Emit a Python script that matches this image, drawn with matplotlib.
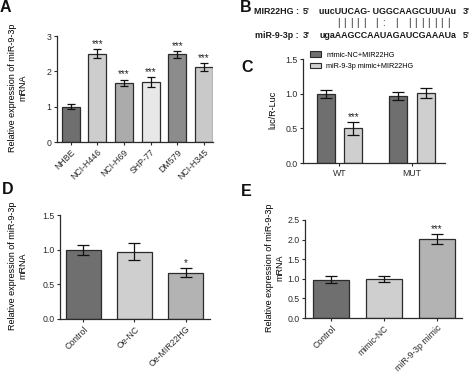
import matplotlib
matplotlib.use("Agg")
import matplotlib.pyplot as plt
from matplotlib.patches import Patch

plt.rcParams['font.family'] = ['Liberation Sans', 'DejaVu Sans']
plt.rcParams['font.size'] = 6.5

W, H = 474, 373

# === data ===
a_cats = ["NHBE", "NCI-H446", "NCI-H69", "SHP-77", "DM579", "NCI-H345"]
a_vals = [1.0, 2.5, 1.68, 1.7, 2.48, 2.12]
a_errs = [0.07, 0.13, 0.09, 0.13, 0.09, 0.12]
a_stars = ["", "***", "***", "***", "***", "***"]
a_colors = ["#6f6f6f", "#cdcdcd", "#ababab", "#e8e8e8", "#8c8c8c", "#c9c9c9"]

c_groups = ["WT", "MUT"]
c_series = ["mimic-NC+MIR22HG", "miR-9-3p mimic+MIR22HG"]
c_vals = [[1.0, 0.97], [0.5, 1.01]]
c_errs = [[0.06, 0.06], [0.09, 0.07]]
c_stars = [["", ""], ["***", ""]]
c_colors = ["#6f6f6f", "#cfcfcf"]

d_cats = ["Control", "Oe-NC", "Oe-MIR22HG"]
d_vals = [1.0, 0.97, 0.67]
d_errs = [0.07, 0.12, 0.07]
d_stars = ["", "", "*"]

e_cats = ["Control", "mimic-NC", "miR-9-3p mimic"]
e_vals = [0.98, 0.99, 2.02]
e_errs = [0.09, 0.07, 0.13]
e_stars = ["", "", "***"]

de_colors = ["#6f6f6f", "#cfcfcf", "#b3b3b3"]

seq_top = "uucUUCAG- UGGCAAGCUUUAu"
seq_bot = "ugaAAGCCAAUAGAUCGAAAUa"
# one mark per upper-case base of seq_bot (blank = unpaired)
pair_line = "||||| |: | |||||||"

YLAB = "Relative expression of miR-9-3p\nmRNA"
EDGE = "#2b2b2b"
SEQ_FS = 6.4


def px_axes(fig, x0, y0, x1, y1):
    # pixel box (top-left origin) -> figure axes
    return fig.add_axes([x0 / W, 1 - y1 / H, (x1 - x0) / W, (y1 - y0) / H])


def style(ax, ymax, step, fmt):
    for s in ["top", "right"]:
        ax.spines[s].set_visible(False)
    for s in ["left", "bottom"]:
        ax.spines[s].set_color(EDGE)
        ax.spines[s].set_linewidth(0.9)
    ax.spines["left"].set_bounds(0, ymax)
    ticks = [i * step for i in range(int(round(ymax / step)) + 1)]
    ax.set_yticks(ticks)
    ax.set_yticklabels([fmt.format(t) for t in ticks])
    ax.set_ylim(0, ymax * 1.02)
    ax.tick_params(direction="out", length=2.5, width=0.8, colors=EDGE, pad=1.5, labelsize=6.3)
    ax.patch.set_alpha(0)


def bars(ax, xs, vals, errs, colors, width, cap, stars, star_size=7):
    ax.bar(xs, vals, width, color=colors, edgecolor=EDGE, linewidth=0.9, zorder=2)
    ax.errorbar(xs, vals, yerr=errs, fmt="none", ecolor="#111111", elinewidth=0.9,
                capsize=cap, capthick=0.9, zorder=3)
    for x, v, e, s in zip(xs, vals, errs, stars):
        if s:
            ax.text(x, v + e, s, ha="center", va="bottom", fontsize=star_size,
                    color="#222222")


def ylab_at(ax, text, x_px, x0, x1):
    # x_px is the right edge of the (rotated) label block
    ax.set_ylabel(text, fontsize=6.5, linespacing=1.15)
    ax.yaxis.set_label_coords((x_px - x0) / (x1 - x0), 0.5)


fig = plt.figure(figsize=(W / 100, H / 100), dpi=100)

# --- A ---
axA = px_axes(fig, 57, 34, 213, 142)
xa = list(range(len(a_cats)))
bars(axA, xa, a_vals, a_errs, a_colors, 0.68, 3, a_stars)
style(axA, 3, 1, "{:.0f}")
axA.set_xlim(-0.51, 5.34)
axA.set_xticks(xa)
axA.set_xticklabels(a_cats, rotation=45, ha="right", rotation_mode="anchor")
ylab_at(axA, YLAB, 27, 57, 213)

# --- C ---
axC = px_axes(fig, 303, 57, 445, 163)
off = 0.19
for i in range(2):
    xs = [g + (off if i else -off) for g in range(len(c_groups))]
    bars(axC, xs, c_vals[i], c_errs[i], [c_colors[i]] * 2, 0.25, 4, c_stars[i])
style(axC, 1.5, 0.5, "{:.1f}")
axC.set_xlim(-0.503, 1.455)
axC.set_xticks(range(len(c_groups)))
axC.set_xticklabels(c_groups)
ylab_at(axC, "luc/R-Luc", 277, 303, 445)
handles = [Patch(facecolor=c, edgecolor=EDGE, linewidth=0.8) for c in c_colors]
axC.legend(handles, c_series, loc="upper left", bbox_to_anchor=(0.03, 1.08), frameon=False,
           fontsize=5.2, handlelength=1.5, handleheight=0.75, handletextpad=0.7,
           labelspacing=0.55, borderaxespad=0)

# --- D ---
axD = px_axes(fig, 60, 213, 210, 319)
xd = list(range(len(d_cats)))
bars(axD, xd, d_vals, d_errs, de_colors, 0.68, 4.5, d_stars)
style(axD, 1.5, 0.5, "{:.1f}")
axD.set_xlim(-0.45, 2.47)
axD.set_xticks(xd)
axD.set_xticklabels(d_cats, rotation=45, ha="right", rotation_mode="anchor")
ylab_at(axD, YLAB, 27, 60, 210)

# --- E ---
axE = px_axes(fig, 305, 218, 462, 318)
xe = list(range(len(e_cats)))
bars(axE, xe, e_vals, e_errs, de_colors, 0.68, 4.5, e_stars)
style(axE, 2.5, 0.5, "{:.1f}")
axE.set_xlim(-0.5, 2.48)
axE.set_xticks(xe)
axE.set_xticklabels(e_cats, rotation=45, ha="right", rotation_mode="anchor")
ylab_at(axE, YLAB, 284, 305, 462)

# --- B (sequence pairing) ---
def ftxt(x, y, s, **kw):
    kw.setdefault("fontsize", SEQ_FS)
    kw.setdefault("fontweight", "bold")
    kw.setdefault("color", "#1a1a1a")
    return fig.text(x / W, 1 - y / H, s, va="center", **kw)

ftxt(299, 11, "MIR22HG :", ha="right")
ftxt(303, 11, "5'", ha="left")
ftxt(456, 11, seq_top, ha="right")
ftxt(463, 11, "3'", ha="left")
ftxt(299, 35, "miR-9-3p :", ha="right")
ftxt(303, 35, "3'", ha="left")
bot = ftxt(456, 35, seq_bot, ha="right")
ftxt(463, 35, "5'", ha="left")

# place pairing marks over the upper-case bases of seq_bot
fig.canvas.draw()
rend = fig.canvas.get_renderer()
x_left = bot.get_window_extent(rend).x0
probe = fig.text(0, 0, "", fontsize=SEQ_FS, fontweight="bold")
for k, m in enumerate(pair_line):
    if m == " ":
        continue
    idx = 3 + k
    probe.set_text(seq_bot[:idx])
    w0 = probe.get_window_extent(rend).width
    probe.set_text(seq_bot[:idx + 1])
    w1 = probe.get_window_extent(rend).width
    xc = x_left + (w0 + w1) / 2
    fig.text(xc / W, 1 - 23 / H, m, ha="center", va="center", fontsize=7, color="#1a1a1a")
probe.remove()

# panel letters
for lbl, x, y in [("A", 0, 7), ("B", 240, 8), ("C", 241, 68), ("D", 2, 190), ("E", 241, 191)]:
    fig.text(x / W, 1 - y / H, lbl, fontsize=11.5, fontweight="bold", va="center", ha="left",
             color="#111111")

fig.savefig("out.png", dpi=100)
